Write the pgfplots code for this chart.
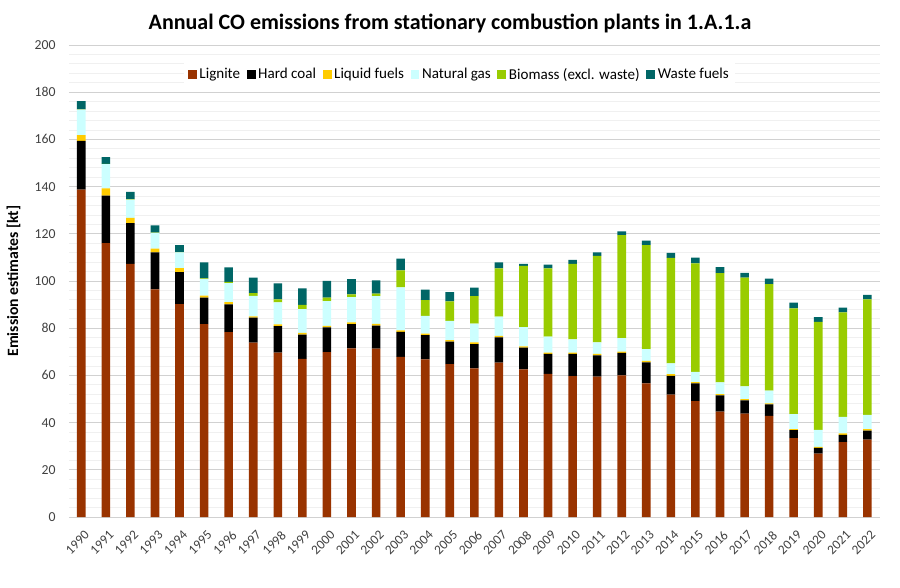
\documentclass[border=0pt]{standalone}
\usepackage{pgfplots}
\usepackage{pgfplotstable}
\pgfplotsset{compat=1.18}
\usepackage{fontspec}
\setmainfont{Carlito}
\definecolor{lignite}{HTML}{993300}
\definecolor{liquid}{HTML}{FFCC00}
\definecolor{gas}{HTML}{CCFFFF}
\definecolor{bio}{HTML}{99CC00}
\definecolor{waste}{HTML}{006666}
\definecolor{ticktext}{HTML}{404040}
\pgfplotstableread{
x lig hc liq gas bio waste
0 138.7 20.7 2.4 10.8 0.1 3.5
1 116.1 20.1 3.1 10.2 0.1 2.9
2 107.3 17.2 2.2 7.8 0.2 3.1
3 96.5 15.6 1.6 6.7 0.1 3.1
4 90.2 13.6 1.7 6.6 0.1 3.0
5 81.7 11.3 0.8 7.0 0.3 6.8
6 78.3 11.8 0.9 8.1 0.5 6.2
7 73.9 10.6 0.5 8.7 1.2 6.5
8 69.7 11.2 0.7 9.3 1.3 6.8
9 67.0 10.3 0.7 10.1 1.8 7.0
10 69.9 10.4 0.7 10.5 1.5 7.1
11 71.5 10.2 0.8 10.7 1.1 6.5
12 71.3 9.8 0.7 11.8 1.0 5.7
13 67.8 10.6 0.7 18.2 7.2 5.0
14 66.8 10.3 0.6 7.5 6.7 4.4
15 64.8 9.5 0.7 8.1 8.3 3.9
16 63.0 10.3 0.7 7.9 11.7 3.6
17 65.4 10.7 0.6 8.2 20.5 2.5
18 62.6 9.2 0.5 8.2 25.9 0.9
19 60.7 8.4 0.5 6.8 29.0 1.5
20 59.7 9.4 0.5 5.7 32.0 1.7
21 59.5 9.0 0.6 4.9 36.6 1.5
22 60.0 9.5 0.6 5.7 43.6 1.6
23 56.6 8.9 0.7 4.9 44.1 1.9
24 51.9 7.9 0.7 4.6 44.7 2.1
25 49.1 7.5 0.5 4.4 46.0 2.4
26 44.6 6.9 0.6 4.9 46.3 2.6
27 43.8 5.6 0.5 5.4 46.1 2.0
28 42.9 4.8 0.5 5.4 45.1 2.3
29 33.4 3.4 0.4 6.4 44.8 2.4
30 26.9 2.4 0.4 7.2 45.8 2.0
31 31.7 3.1 0.6 7.0 44.3 2.0
32 32.8 3.8 0.6 6.1 48.9 1.9
}\data
\begin{document}
\begin{tikzpicture}
\path[use as bounding box] (0,0) rectangle (675pt,440.25pt);
\begin{axis}[
  at={(51.75pt,52.5pt)}, anchor=south west,
  scale only axis, width=608pt, height=354pt,
  ybar stacked, bar width=0.35,
  xmin=-0.5, xmax=32.5, ymin=0, ymax=200,
  xtick=data,
  xticklabels={1990,1991,1992,1993,1994,1995,1996,1997,1998,1999,2000,2001,2002,2003,2004,2005,2006,2007,2008,2009,2010,2011,2012,2013,2014,2015,2016,2017,2018,2019,2020,2021,2022},
  xticklabel style={xshift=1.9pt, yshift=-9.5pt, rotate=45, anchor=north east, font=\fontsize{10}{12}\selectfont, text=ticktext, inner sep=0pt},
  ytick={0,20,...,200},
  minor y tick num=4,
  yticklabel style={font=\fontsize{10.3}{12}\selectfont, text=ticktext, xshift=-6.5pt},
  /pgf/number format/assume math mode=true,
  ymajorgrids, yminorgrids,
  major grid style={draw=black!18, line width=0.6pt},
  minor grid style={draw=black!6, line width=0.6pt},
  axis x line*=bottom, axis y line*=left,
  y axis line style={draw=none},
  x axis line style={draw=black!18, line width=0.6pt},
  major tick length=0pt, minor tick length=0pt,
  ylabel={\bfseries Emission estimates [kt]},
  ylabel style={font=\fontsize{11.8}{14}\selectfont, at={(axis description cs:-0.054,0.5)}, anchor=south},
  legend columns=6,
  legend style={at={(0.482,0.937)}, anchor=center, draw=none, fill=white,
    font=\fontsize{11.3}{13}\selectfont, inner xsep=3pt, inner ysep=2pt,
    /tikz/every even column/.append style={column sep=3pt}},
  legend image code/.code={\fill[#1] (0pt,-3.3pt) rectangle (6.6pt,3.3pt);},
  every axis plot/.append style={draw=none},
]
\addplot[fill=lignite] table[x=x,y=lig]{\data};
\addlegendentry{Lignite}
\addplot[fill=black] table[x=x,y=hc]{\data};
\addlegendentry{Hard coal}
\addplot[fill=liquid] table[x=x,y=liq]{\data};
\addlegendentry{Liquid fuels}
\addplot[fill=gas] table[x=x,y=gas]{\data};
\addlegendentry{Natural gas}
\addplot[fill=bio] table[x=x,y=bio]{\data};
\addlegendentry{Biomass (excl. waste)}
\addplot[fill=waste] table[x=x,y=waste]{\data};
\addlegendentry{Waste fuels}
\end{axis}
\node[font=\fontsize{16.5}{19}\selectfont\bfseries] at (337.5pt,422.5pt) {Annual CO emissions from stationary combustion plants in 1.A.1.a};
\end{tikzpicture}
\end{document}
